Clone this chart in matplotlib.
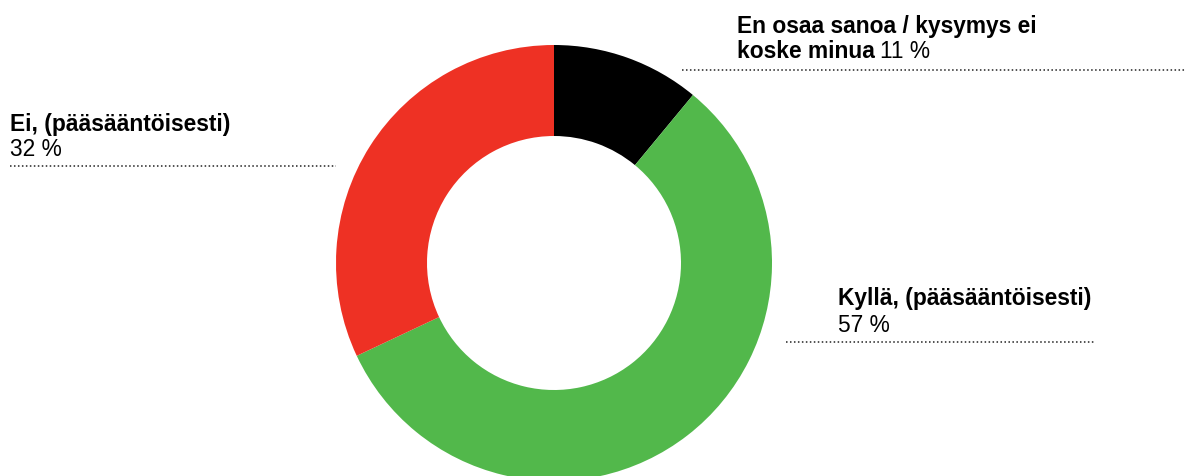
import matplotlib
matplotlib.use("Agg")
import matplotlib.pyplot as plt

plt.rcParams['font.family'] = ['Liberation Sans', 'DejaVu Sans']

labels = ["En osaa sanoa / kysymys ei koske minua", "Kyllä, (pääsääntöisesti)", "Ei, (pääsääntöisesti)"]
values = [11, 57, 32]
colors = ["#000000", "#52B84B", "#EE3124"]

W, H = 1189, 477
fig = plt.figure(figsize=(W / 100, H / 100), dpi=100)
ax = fig.add_axes([0, 0, 1, 1])

ax.pie(values, colors=colors, startangle=90, counterclock=False,
       center=(554, H - 264), radius=218,
       wedgeprops=dict(width=91, linewidth=0))
ax.set_xlim(0, W)
ax.set_ylim(0, H)
ax.set_aspect('equal')
ax.axis('off')

fs = 16.4


def dotted(x0, x1, y):
    ax.plot([x0, x1], [H - y, H - y], color="#222222", lw=1.1,
            linestyle=(0, (1, 1.6)), solid_capstyle='butt')


def mixed(x, y, bold, normal):
    t = ax.text(x, H - y, bold, fontsize=fs, fontweight='bold', va='center', ha='left')
    fig.canvas.draw()
    bb = t.get_window_extent()
    ax.text(bb.x1 + 5, H - y, normal, fontsize=fs, va='center', ha='left')


# top right
ax.text(737, H - 26, "En osaa sanoa / kysymys ei", fontsize=fs, fontweight='bold', va='center')
mixed(737, 52, "koske minua", f"{values[0]} %")
dotted(682, 1186, 71)

# left
ax.text(10, H - 124, labels[2], fontsize=fs, fontweight='bold', va='center')
ax.text(10, H - 150, f"{values[2]} %", fontsize=fs, va='center')
dotted(10, 336, 167)

# right
ax.text(838, H - 298, labels[1], fontsize=fs, fontweight='bold', va='center')
ax.text(838, H - 325, f"{values[1]} %", fontsize=fs, va='center')
dotted(786, 1094, 343)

fig.savefig("out.png", dpi=100)
